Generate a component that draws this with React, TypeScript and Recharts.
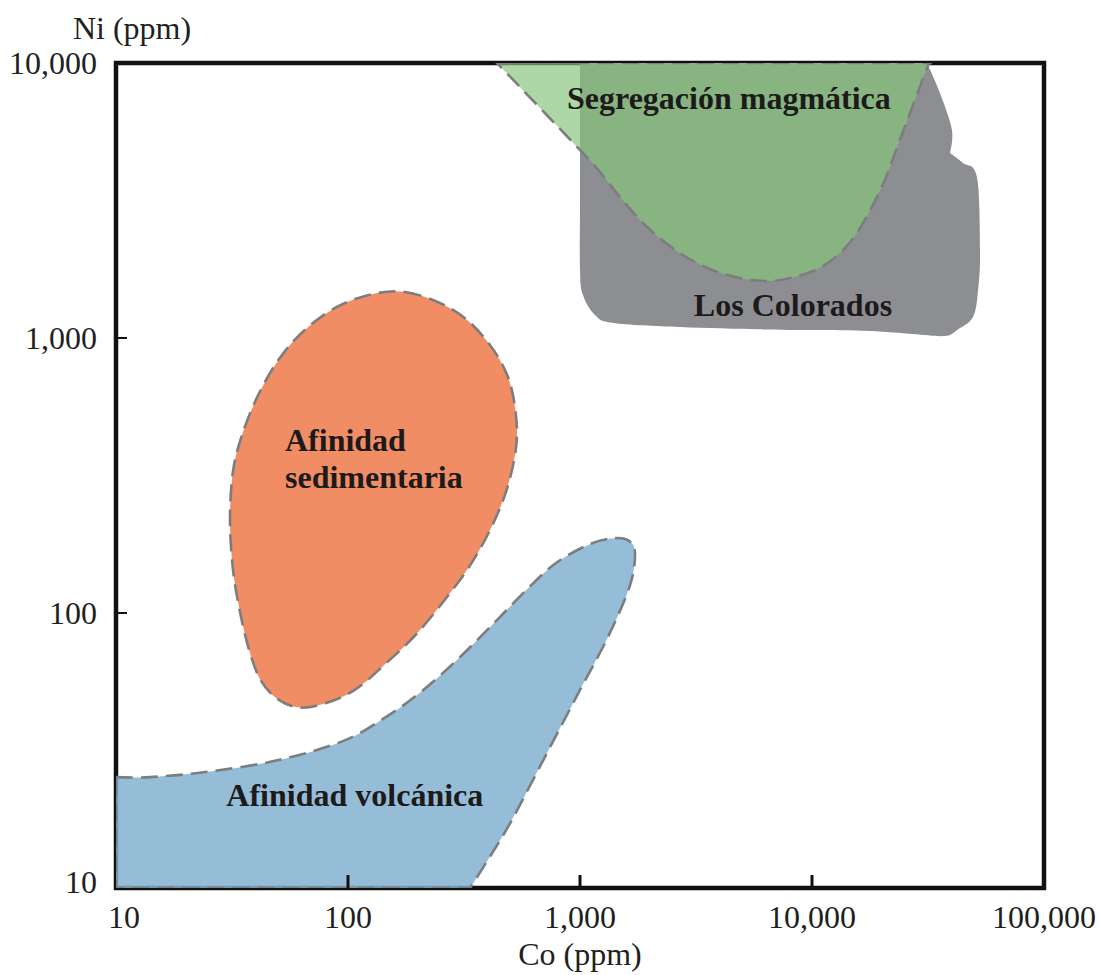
import React from 'react';
import { ComposedChart, Scatter, XAxis, YAxis, ReferenceArea } from 'recharts';

type Pt = { co: number; ni: number; sharp?: boolean };

// Los Colorados (gray field)
const losColorados: Pt[] = [
  { co: 1000, ni: 10000, sharp: true },
  { co: 31300, ni: 10000, sharp: true },
  { co: 35600, ni: 7780 },
  { co: 40100, ni: 5710 },
  { co: 39300, ni: 4710, sharp: true },
  { co: 44800, ni: 4330 },
  { co: 51400, ni: 3850 },
  { co: 53000, ni: 2090 },
  { co: 52000, ni: 1494 },
  { co: 49400, ni: 1192 },
  { co: 42200, ni: 1069 },
  { co: 37400, ni: 1017 },
  { co: 27200, ni: 1034 },
  { co: 17800, ni: 1060 },
  { co: 10100, ni: 1069 },
  { co: 5970, ni: 1075 },
  { co: 2700, ni: 1096 },
  { co: 1390, ni: 1134 },
  { co: 1160, ni: 1212 },
  { co: 1030, ni: 1433 },
  { co: 1000, ni: 1767 },
  { co: 1000, ni: 3175 },
];

// Segregación magmática (green field)
const segregacion: Pt[] = [
  { co: 439, ni: 10000, sharp: true },
  { co: 32300, ni: 10000, sharp: true },
  { co: 31300, ni: 9590 },
  { co: 27800, ni: 7340 },
  { co: 23900, ni: 5250 },
  { co: 20600, ni: 3755 },
  { co: 16900, ni: 2686 },
  { co: 13900, ni: 2125 },
  { co: 10800, ni: 1797 },
  { co: 8040, ni: 1652 },
  { co: 6270, ni: 1611 },
  { co: 4660, ni: 1666 },
  { co: 3460, ni: 1813 },
  { co: 2570, ni: 2090 },
  { co: 1905, ni: 2576 },
  { co: 1487, ni: 3256 },
  { co: 1220, ni: 4013 },
  { co: 1000, ni: 4830 },
];

// Afinidad sedimentaria (orange field)
const sedimentaria: Pt[] = [
  { co: 176, ni: 1470 },
  { co: 249, ni: 1341 },
  { co: 326, ni: 1163 },
  { co: 409, ni: 943 },
  { co: 475, ni: 765 },
  { co: 514, ni: 620 },
  { co: 535, ni: 463 },
  { co: 520, ni: 360 },
  { co: 475, ni: 269 },
  { co: 409, ni: 200 },
  { co: 336, ni: 149 },
  { co: 262, ni: 112 },
  { co: 195, ni: 83 },
  { co: 144, ni: 65 },
  { co: 107, ni: 52.5 },
  { co: 80, ni: 47 },
  { co: 62, ni: 45.3 },
  { co: 50, ni: 48.5 },
  { co: 42, ni: 57 },
  { co: 37.2, ni: 75 },
  { co: 34, ni: 104 },
  { co: 31.9, ni: 145 },
  { co: 31.0, ni: 218 },
  { co: 31.9, ni: 325 },
  { co: 34.8, ni: 440 },
  { co: 41, ni: 620 },
  { co: 51, ni: 850 },
  { co: 66, ni: 1080 },
  { co: 90, ni: 1300 },
  { co: 128, ni: 1445 },
];

// Afinidad volcánica (blue field)
const volcanica: Pt[] = [
  { co: 10, ni: 25.3, sharp: true },
  { co: 14, ni: 25.3 },
  { co: 24.2, ni: 26.4 },
  { co: 48.5, ni: 29 },
  { co: 95, ni: 34.2 },
  { co: 146, ni: 41.9 },
  { co: 206, ni: 51.6 },
  { co: 295, ni: 67.5 },
  { co: 422, ni: 91.2 },
  { co: 603, ni: 124 },
  { co: 796, ni: 153 },
  { co: 1104, ni: 178 },
  { co: 1402, ni: 187 },
  { co: 1626, ni: 183 },
  { co: 1726, ni: 165 },
  { co: 1642, ni: 126 },
  { co: 1320, ni: 81.8 },
  { co: 1000, ni: 52.5 },
  { co: 721, ni: 31 },
  { co: 509, ni: 17.7 },
  { co: 409, ni: 13 },
  { co: 336, ni: 10, sharp: true },
  { co: 10, ni: 10, sharp: true },
];

const fieldLabels = [
  { co: 4385, ni: 7460, text: 'Segregación magmática', anchor: 'middle' },
  { co: 8280, ni: 1318, text: 'Los Colorados', anchor: 'middle' },
  { co: 53.5, ni: 426, text: 'Afinidad', anchor: 'start' },
  { co: 53.5, ni: 312, text: 'sedimentaria', anchor: 'start' },
  { co: 107, ni: 21.8, text: 'Afinidad volcánica', anchor: 'middle' },
];

const xTicks = [10, 100, 1000, 10000, 100000];
const xTickLabels = ['10', '100', '1,000', '10,000', '100,000'];
const yTicks = [10, 100, 1000, 10000];
const yTickLabels = ['10', '100', '1,000', '10,000'];

const SERIF = '"Liberation Serif", "Times New Roman", Times, serif';

function buildPath(pts: { x: number; y: number }[], sharp: boolean[]): string {
  const n = pts.length;
  if (n < 2) return '';
  const t = 1 / 6;
  let d = `M${pts[0].x},${pts[0].y}`;
  for (let i = 0; i < n; i++) {
    const p0 = pts[(i - 1 + n) % n];
    const p1 = pts[i];
    const p2 = pts[(i + 1) % n];
    const p3 = pts[(i + 2) % n];
    const c1 = sharp[i] ? p1 : { x: p1.x + (p2.x - p0.x) * t, y: p1.y + (p2.y - p0.y) * t };
    const c2 = sharp[(i + 1) % n] ? p2 : { x: p2.x - (p3.x - p1.x) * t, y: p2.y - (p3.y - p1.y) * t };
    d += ` C${c1.x},${c1.y} ${c2.x},${c2.y} ${p2.x},${p2.y}`;
  }
  return d + ' Z';
}

const regionLine =
  (data: Pt[], fill: string, opacity: number, dashed: boolean) =>
  (lp: any) => {
    const pts = (lp && lp.points) || [];
    const d = buildPath(pts, data.map((p) => !!p.sharp));
    return (
      <path
        d={d}
        fill={fill}
        fillOpacity={opacity}
        stroke={dashed ? '#7d7d7d' : 'none'}
        strokeWidth={2.6}
        strokeDasharray={dashed ? '17 8' : undefined}
      />
    );
  };

const NoShape = () => <g />;

const LabelShape = (props: any) => {
  const { cx, cy, payload } = props;
  return (
    <text
      x={cx}
      y={cy}
      textAnchor={payload.anchor}
      dominantBaseline="central"
      fontFamily={SERIF}
      fontWeight="bold"
      fontSize={32}
      fill="#1c1a1a"
    >
      {payload.text}
    </text>
  );
};

const XTick = (props: any) => {
  const { x, y, payload, index } = props;
  const v = payload.value;
  const inner = v > 10 && v < 100000;
  return (
    <g>
      {inner && <line x1={x} x2={x} y1={y - 13} y2={y} stroke="#111" strokeWidth={3} />}
      <text
        x={x + (v === 10 ? 8 : 0)}
        y={y + 29}
        textAnchor="middle"
        dominantBaseline="central"
        fontFamily={SERIF}
        fontSize={32}
        fill="#231f20"
      >
        {xTickLabels[xTicks.indexOf(v)] ?? xTickLabels[index]}
      </text>
    </g>
  );
};

const YTick = (props: any) => {
  const { x, y, payload, index } = props;
  const v = payload.value;
  const inner = v > 10 && v < 10000;
  return (
    <g>
      {inner && <line x1={x} x2={x + 11} y1={y} y2={y} stroke="#111" strokeWidth={2} />}
      <text
        x={x - 19}
        y={y - (v === 10 ? 6 : 0)}
        textAnchor="end"
        dominantBaseline="central"
        fontFamily={SERIF}
        fontSize={32}
        fill="#231f20"
      >
        {yTickLabels[yTicks.indexOf(v)] ?? yTickLabels[index]}
      </text>
    </g>
  );
};

const XTitle = (props: any) => {
  const vb = props.viewBox || {};
  return (
    <text
      x={vb.x + vb.width / 2}
      y={vb.y + 66}
      textAnchor="middle"
      dominantBaseline="central"
      fontFamily={SERIF}
      fontSize={32}
      fill="#231f20"
    >
      Co (ppm)
    </text>
  );
};

const YTitle = (props: any) => {
  const vb = props.viewBox || {};
  return (
    <text
      x={vb.x + vb.width + 16}
      y={vb.y - 35}
      textAnchor="middle"
      dominantBaseline="central"
      fontFamily={SERIF}
      fontSize={32}
      fill="#231f20"
    >
      Ni (ppm)
    </text>
  );
};

export default function App() {
  return (
    <div style={{ position: 'absolute', left: 0, top: 0, width: 1101, height: 975, overflow: 'hidden' }}>
      <ComposedChart width={1101} height={975} margin={{ top: 63, right: 57, bottom: 27, left: 0 }}>
        <XAxis
          type="number"
          dataKey="co"
          scale="log"
          domain={[10, 100000]}
          allowDataOverflow
          ticks={xTicks}
          interval={0}
          tick={<XTick />}
          tickLine={false}
          axisLine={false}
          tickSize={0}
          tickMargin={0}
          height={60}
          label={<XTitle />}
        />
        <YAxis
          type="number"
          dataKey="ni"
          scale="log"
          domain={[10, 10000]}
          allowDataOverflow
          ticks={yTicks}
          interval={0}
          tick={<YTick />}
          tickLine={false}
          axisLine={false}
          tickSize={0}
          tickMargin={0}
          width={116}
          label={<YTitle />}
        />
        <Scatter
          data={losColorados}
          isAnimationActive={false}
          shape={<NoShape />}
          line={regionLine(losColorados, '#8d8e92', 1, false)}
        />
        <Scatter
          data={segregacion}
          isAnimationActive={false}
          shape={<NoShape />}
          line={regionLine(segregacion, '#86c57a', 0.68, true)}
        />
        <Scatter
          data={sedimentaria}
          isAnimationActive={false}
          shape={<NoShape />}
          line={regionLine(sedimentaria, '#f18d64', 1, true)}
        />
        <Scatter
          data={volcanica}
          isAnimationActive={false}
          shape={<NoShape />}
          line={regionLine(volcanica, '#82b2d1', 0.85, true)}
        />
        <Scatter data={fieldLabels} isAnimationActive={false} shape={<LabelShape />} />
        <ReferenceArea
          x1={10}
          x2={100000}
          y1={10}
          y2={10000}
          fill="none"
          stroke="#111"
          strokeWidth={4.5}
          ifOverflow="visible"
        />
      </ComposedChart>
    </div>
  );
}
